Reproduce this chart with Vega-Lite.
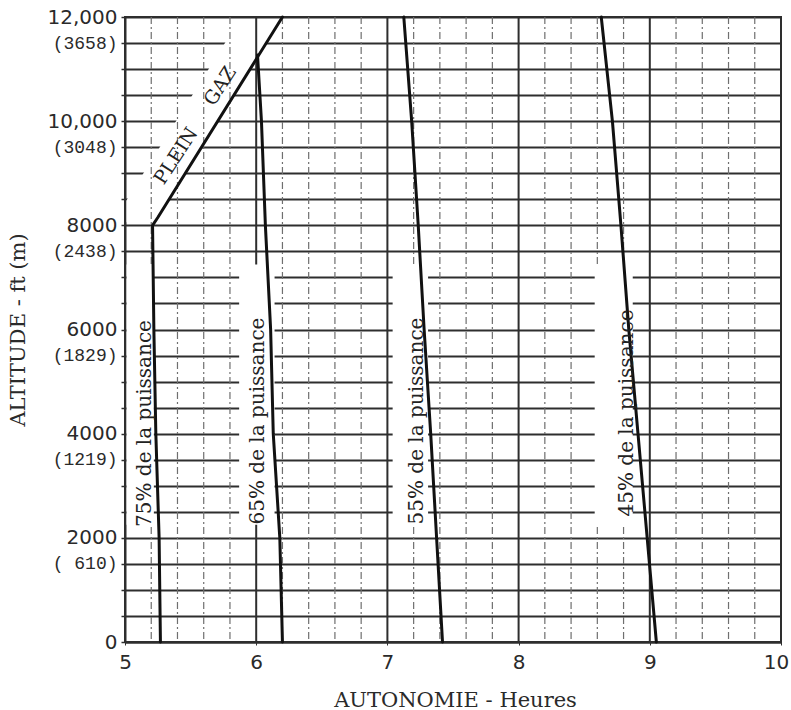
{
  "$schema": "https://vega.github.io/schema/vega-lite/v6.json",
  "width": 656,
  "height": 625,
  "autosize": "none",
  "padding": {"left": 125, "top": 17, "right": 10, "bottom": 68},
  "background": "white",
  "config": {
    "view": {"stroke": "#2e2e2e", "strokeWidth": 2},
    "axis": {"labelColor": "#2a2a2a", "titleColor": "#2a2a2a", "domainColor": "#2e2e2e", "domainWidth": 2, "tickColor": "#2e2e2e"}
  },
  "datasets": {
    "curves": [
      {"puissance": "75%", "i": 1, "heures": 5.27, "altitude": 0},
      {"puissance": "75%", "i": 2, "heures": 5.26, "altitude": 2000},
      {"puissance": "75%", "i": 3, "heures": 5.235, "altitude": 4000},
      {"puissance": "75%", "i": 4, "heures": 5.22, "altitude": 6000},
      {"puissance": "75%", "i": 5, "heures": 5.21, "altitude": 8000},
      {"puissance": "75%", "i": 6, "heures": 5.25, "altitude": 8150},
      {"puissance": "75%", "i": 7, "heures": 6.2, "altitude": 12000},
      {"puissance": "65%", "i": 1, "heures": 6.2, "altitude": 0},
      {"puissance": "65%", "i": 2, "heures": 6.18, "altitude": 2000},
      {"puissance": "65%", "i": 3, "heures": 6.13, "altitude": 4000},
      {"puissance": "65%", "i": 4, "heures": 6.11, "altitude": 6000},
      {"puissance": "65%", "i": 5, "heures": 6.07, "altitude": 8000},
      {"puissance": "65%", "i": 6, "heures": 6.04, "altitude": 10000},
      {"puissance": "65%", "i": 7, "heures": 6.01, "altitude": 11270},
      {"puissance": "55%", "i": 1, "heures": 7.42, "altitude": 0},
      {"puissance": "55%", "i": 2, "heures": 7.375, "altitude": 2000},
      {"puissance": "55%", "i": 3, "heures": 7.33, "altitude": 4000},
      {"puissance": "55%", "i": 4, "heures": 7.28, "altitude": 6000},
      {"puissance": "55%", "i": 5, "heures": 7.235, "altitude": 8000},
      {"puissance": "55%", "i": 6, "heures": 7.185, "altitude": 10000},
      {"puissance": "55%", "i": 7, "heures": 7.125, "altitude": 12000},
      {"puissance": "45%", "i": 1, "heures": 9.05, "altitude": 0},
      {"puissance": "45%", "i": 2, "heures": 8.98, "altitude": 2000},
      {"puissance": "45%", "i": 3, "heures": 8.91, "altitude": 4000},
      {"puissance": "45%", "i": 4, "heures": 8.84, "altitude": 6000},
      {"puissance": "45%", "i": 5, "heures": 8.78, "altitude": 8000},
      {"puissance": "45%", "i": 6, "heures": 8.715, "altitude": 10000},
      {"puissance": "45%", "i": 7, "heures": 8.63, "altitude": 12000}
    ],
    "major": [{"heures": 6}, {"heures": 7}, {"heures": 8}, {"heures": 9}],
    "minor": [
      {"heures": 5.2}, {"heures": 5.4}, {"heures": 5.6}, {"heures": 5.8},
      {"heures": 6.2}, {"heures": 6.4}, {"heures": 6.6}, {"heures": 6.8},
      {"heures": 7.2}, {"heures": 7.4}, {"heures": 7.6}, {"heures": 7.8},
      {"heures": 8.2}, {"heures": 8.4}, {"heures": 8.6}, {"heures": 8.8},
      {"heures": 9.2}, {"heures": 9.4}, {"heures": 9.6}, {"heures": 9.8}
    ],
    "gaps": [
      {"x1": 5.012, "x2": 5.22, "a1": 2250, "a2": 7250},
      {"x1": 5.87, "x2": 6.14, "a1": 2250, "a2": 7250},
      {"x1": 7.04, "x2": 7.31, "a1": 2250, "a2": 7250},
      {"x1": 8.58, "x2": 8.87, "a1": 2250, "a2": 7250}
    ],
    "band": [
      {"altitude": 8060, "left": 5.012, "right": 5.23},
      {"altitude": 8480, "left": 5.012, "right": 5.33},
      {"altitude": 11950, "left": 5.874, "right": 6.19}
    ],
    "labels": [
      {"texte": "75% de la puissance", "heures": 5.153, "altitude": 4195},
      {"texte": "65% de la puissance", "heures": 6.015, "altitude": 4243},
      {"texte": "55% de la puissance", "heures": 7.225, "altitude": 4243},
      {"texte": "45% de la puissance", "heures": 8.83, "altitude": 4397}
    ],
    "pleingaz": [
      {"texte": "PLEIN", "heures": 5.389, "altitude": 9331},
      {"texte": "GAZ", "heures": 5.725, "altitude": 10675}
    ]
  },
  "encoding": {
    "x": {
      "type": "quantitative",
      "scale": {"domain": [5, 10], "nice": false, "zero": false},
      "axis": {
        "title": "AUTONOMIE - Heures",
        "titleFont": "DejaVu Serif",
        "titleFontSize": 21,
        "titleFontWeight": "normal",
        "titleX": 330,
        "titleY": 58,
        "titleBaseline": "middle",
        "values": [5, 6, 7, 8, 9, 10],
        "format": "d",
        "labelFont": "DejaVu Sans",
        "labelFontSize": 20,
        "labelPadding": 7,
        "labelFlush": false,
        "labelOffset": {"condition": {"test": "datum.value === 10", "value": -5}, "value": 0},
        "tickSize": 3,
        "domain": true,
        "grid": false
      }
    },
    "y": {
      "type": "quantitative",
      "scale": {"domain": [0, 12000], "nice": false},
      "axis": {
        "title": "ALTITUDE - ft (m)",
        "titleFont": "DejaVu Serif",
        "titleFontSize": 21,
        "titleFontWeight": "normal",
        "titleX": -107,
        "titleY": 312.5,
        "titleAngle": -90,
        "titleAlign": "center",
        "titleBaseline": "middle",
        "values": [0, 500, 1000, 1500, 2000, 2500, 3000, 3500, 4000, 4500, 5000, 5500, 6000, 6500, 7000, 7500, 8000, 8500, 9000, 9500, 10000, 10500, 11000, 11500, 12000],
        "labelExpr": "datum.value == 12000 ? '12,000' : datum.value == 11500 ? '(3658)' : datum.value == 10000 ? '10,000' : datum.value == 9500 ? '(3048)' : datum.value == 8000 ? '8000' : datum.value == 7500 ? '(2438)' : datum.value == 6000 ? '6000' : datum.value == 5500 ? '(1829)' : datum.value == 4000 ? '4000' : datum.value == 3500 ? '(1219)' : datum.value == 2000 ? '2000' : datum.value == 1500 ? '( 610)' : datum.value == 0 ? '0' : ''",
        "labelFont": {"condition": {"test": "datum.value % 1000 === 500", "value": "Liberation Mono"}, "value": "DejaVu Sans"},
        "labelFontSize": {"condition": {"test": "datum.value % 1000 === 500", "value": 18}, "value": 20},
        "labelPadding": 4,
        "labelFlush": false,
        "labelOverlap": false,
        "tickSize": 4,
        "tickWidth": 1.5,
        "grid": true,
        "gridColor": "#2e2e2e",
        "gridWidth": 2,
        "gridOpacity": 1
      }
    }
  },
  "layer": [
    {
      "data": {"name": "band"},
      "mark": {"type": "area", "orient": "horizontal", "fill": "white", "opacity": 1},
      "encoding": {
        "y": {"field": "altitude", "type": "quantitative"},
        "x": {"field": "left", "type": "quantitative"},
        "x2": {"field": "right"}
      }
    },
    {
      "data": {"name": "minor"},
      "mark": {"type": "rule", "color": "#6f6f6f", "strokeWidth": 1.2, "strokeDash": [7, 3, 2, 3]},
      "encoding": {
        "x": {"field": "heures", "type": "quantitative"}
      }
    },
    {
      "data": {"name": "major"},
      "mark": {"type": "rule", "color": "#2e2e2e", "strokeWidth": 2},
      "encoding": {
        "x": {"field": "heures", "type": "quantitative"}
      }
    },
    {
      "data": {"name": "gaps"},
      "mark": {"type": "rect", "fill": "white", "stroke": null},
      "encoding": {
        "x": {"field": "x1", "type": "quantitative"},
        "x2": {"field": "x2"},
        "y": {"field": "a1", "type": "quantitative"},
        "y2": {"field": "a2"}
      }
    },
    {
      "data": {"name": "curves"},
      "mark": {"type": "line", "color": "#111", "strokeWidth": 3, "strokeCap": "round", "strokeJoin": "round"},
      "encoding": {
        "x": {"field": "heures", "type": "quantitative"},
        "y": {"field": "altitude", "type": "quantitative"},
        "detail": {"field": "puissance"},
        "order": {"field": "i", "type": "quantitative"}
      }
    },
    {
      "data": {"name": "labels"},
      "mark": {"type": "text", "angle": -90, "font": "DejaVu Serif", "fontSize": 20, "color": "#222", "align": "center", "baseline": "middle"},
      "encoding": {
        "x": {"field": "heures", "type": "quantitative"},
        "y": {"field": "altitude", "type": "quantitative"},
        "text": {"field": "texte"}
      }
    },
    {
      "data": {"name": "pleingaz"},
      "mark": {"type": "text", "angle": -57, "font": "DejaVu Serif", "fontSize": 19, "color": "#222", "align": "center", "baseline": "middle"},
      "encoding": {
        "x": {"field": "heures", "type": "quantitative"},
        "y": {"field": "altitude", "type": "quantitative"},
        "text": {"field": "texte"}
      }
    }
  ]
}
